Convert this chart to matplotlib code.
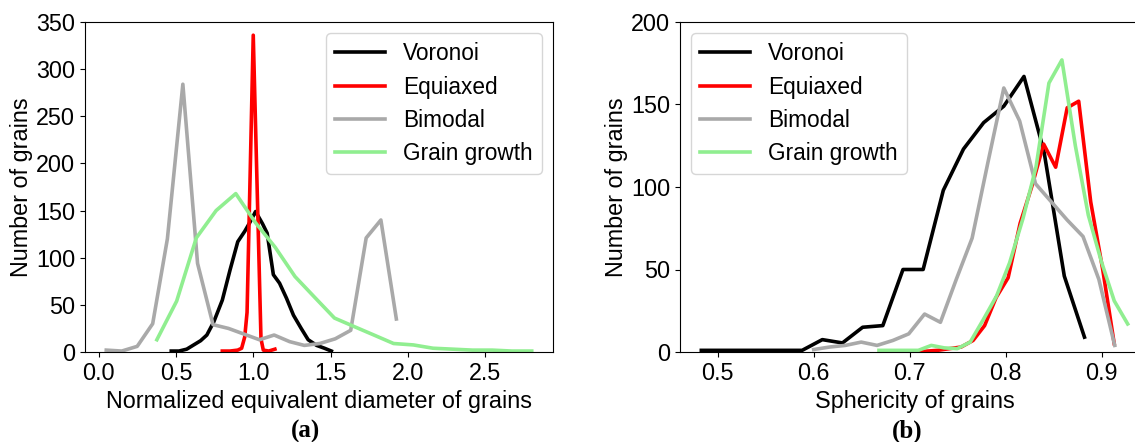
import matplotlib
matplotlib.use("Agg")
import matplotlib.pyplot as plt

plt.rcParams['font.family'] = ['Liberation Sans', 'DejaVu Sans']
plt.rcParams['font.size'] = 16.8

# ---- (a) normalized equivalent diameter distributions ----
vor_d_x = [0.47, 0.52, 0.57, 0.61, 0.66, 0.70, 0.745, 0.80, 0.85, 0.90, 0.945, 0.98,
           1.015, 1.06, 1.09, 1.13, 1.17, 1.215, 1.26, 1.31, 1.355, 1.41, 1.46, 1.505]
vor_d_y = [1, 1, 3, 7, 12, 18, 32, 55, 87, 117, 128, 138,
           149, 136, 126, 82, 73, 57, 39, 25, 13, 7, 4, 1]

equi_d_x = [0.80, 0.85, 0.90, 0.925, 0.945, 0.96, 1.00, 1.05, 1.065, 1.10, 1.14]
equi_d_y = [1, 1, 2, 4, 16, 42, 336, 14, 2, 1, 3]

bim_d_x = [0.05, 0.15, 0.25, 0.35, 0.445, 0.545, 0.64, 0.74, 0.84, 0.94,
           1.04, 1.135, 1.235, 1.33, 1.43, 1.53, 1.63, 1.73, 1.825, 1.925]
bim_d_y = [2, 1, 6, 30, 120, 284, 94, 29, 25, 19,
           13, 18, 11, 7, 9, 14, 23, 121, 140, 35]

gg_d_x = [0.377, 0.505, 0.632, 0.76, 0.887, 1.015, 1.142, 1.27, 1.397, 1.525,
          1.652, 1.78, 1.907, 2.035, 2.162, 2.29, 2.417, 2.545, 2.672, 2.80]
gg_d_y = [13, 54, 121, 150, 168, 137, 111, 80, 58, 36,
          27, 18, 9, 7.5, 4, 3, 2, 2, 1, 1]

# ---- (b) sphericity distributions ----
vor_s_x = [0.483, 0.504, 0.525, 0.546, 0.567, 0.588, 0.609, 0.630, 0.651, 0.672,
           0.693, 0.714, 0.735, 0.756, 0.777, 0.798, 0.819, 0.840, 0.861, 0.882]
vor_s_y = [1, 1, 1, 1, 1, 1, 7.5, 5.5, 15, 16,
           50, 50, 98, 123, 139, 149, 167, 121, 46, 9]

equi_s_x = [0.680, 0.692, 0.7045, 0.717, 0.729, 0.741, 0.7535, 0.766, 0.778, 0.790,
            0.8025, 0.815, 0.827, 0.8395, 0.852, 0.864, 0.876, 0.8885, 0.901, 0.913]
equi_s_y = [0, 0, 0, 0.5, 1, 2, 3, 7, 16, 33,
            45, 78, 100, 126, 112, 148, 152, 91, 50, 5]

bim_s_x = [0.600, 0.6165, 0.633, 0.6495, 0.666, 0.6825, 0.699, 0.7155, 0.732, 0.7485,
           0.765, 0.7815, 0.798, 0.8145, 0.831, 0.8475, 0.864, 0.8805, 0.897, 0.9135]
bim_s_y = [1.5, 3, 4, 6, 4, 7, 11, 23, 18, 44,
           69, 115, 160, 140, 102, 91, 80, 70, 44, 4]

gg_s_x = [0.668, 0.6815, 0.695, 0.709, 0.7225, 0.736, 0.7495, 0.763, 0.777, 0.7905,
          0.804, 0.818, 0.8315, 0.845, 0.8585, 0.8725, 0.886, 0.8995, 0.913, 0.927]
gg_s_y = [1, 1, 1, 1, 4, 2.5, 2, 6, 20, 34,
          54, 81, 112, 163, 177, 125, 83, 55, 31, 17]

labels = ['Voronoi', 'Equiaxed', 'Bimodal', 'Grain growth']
colors = ['black', 'red', 'darkgray', 'lightgreen']
LW = 2.6

W, H = 1135, 442
fig = plt.figure(figsize=(W / 100, H / 100), dpi=100)

ax1 = fig.add_axes([85 / W, 1 - 352 / H, 468 / W, 330 / H])
ax2 = fig.add_axes([680 / W, 1 - 352 / H, 469 / W, 330 / H])

series_a = [(vor_d_x, vor_d_y), (equi_d_x, equi_d_y), (bim_d_x, bim_d_y), (gg_d_x, gg_d_y)]
series_b = [(vor_s_x, vor_s_y), (equi_s_x, equi_s_y), (bim_s_x, bim_s_y), (gg_s_x, gg_s_y)]

for (x, y), c, lab in zip(series_a, colors, labels):
    ax1.plot(x, y, color=c, lw=LW, label=lab)
for (x, y), c, lab in zip(series_b, colors, labels):
    ax2.plot(x, y, color=c, lw=LW, label=lab)

ax1.set_ylim(0, 350)
ax1.set_yticks(range(0, 351, 50))
ax1.set_xticks([0.0, 0.5, 1.0, 1.5, 2.0, 2.5])
ax1.set_xlabel('Normalized equivalent diameter of grains')
ax1.set_ylabel('Number of grains', labelpad=2)
ax1.legend(loc='upper right', handlelength=2.2, fontsize=16.3, labelspacing=0.45)

ax2.set_ylim(0, 200)
ax2.set_yticks(range(0, 201, 50))
ax2.set_xticks([0.5, 0.6, 0.7, 0.8, 0.9])
ax2.set_xlabel('Sphericity of grains')
ax2.set_ylabel('Number of grains', labelpad=2)
ax2.legend(loc='upper left', handlelength=2.2, fontsize=16.3, labelspacing=0.45)

fig.text(305 / W, 1 - 431 / H, '(a)', ha='center', va='center',
         family='Liberation Serif', weight='bold', fontsize=18)
fig.text(907 / W, 1 - 431 / H, '(b)', ha='center', va='center',
         family='Liberation Serif', weight='bold', fontsize=18)

fig.savefig('out.png', dpi=100)
